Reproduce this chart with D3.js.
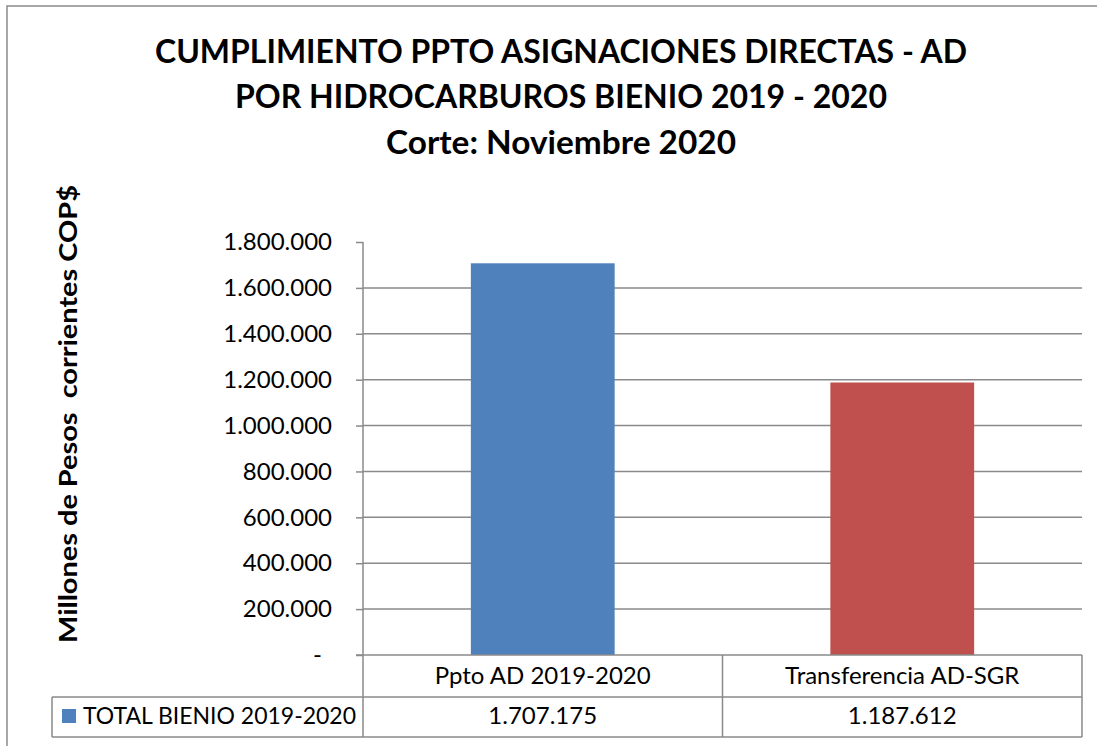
<!DOCTYPE html>
<html>
<head>
<meta charset="utf-8">
<script src="https://cdn.jsdelivr.net/npm/d3@7"></script>
<style>
  body { margin: 0; background: #fff; }
  svg { display: block; font-family: Lato, "Open Sans", sans-serif; }
</style>
</head>
<body>
<svg width="1097" height="746"></svg>
<script>
var categories = ["Ppto AD 2019-2020", "Transferencia AD-SGR"];
var values = [1707175, 1187612];
var seriesName = "TOTAL BIENIO 2019-2020";
var barColors = ["#4F81BD", "#C0504D"];
var yTicks = [0, 200000, 400000, 600000, 800000, 1000000, 1200000, 1400000, 1600000, 1800000];
var titleLines = [
  "CUMPLIMIENTO PPTO ASIGNACIONES DIRECTAS - AD",
  "POR HIDROCARBUROS BIENIO 2019 - 2020",
  "Corte: Noviembre 2020"
];
var yLabel = "Millones de Pesos  corrientes COP$";

var es = d3.formatLocale({decimal: ",", thousands: ".", grouping: [3], currency: ["$", ""]});
var fmt = function(v) { return v === 0 ? "-" : es.format(",d")(v); };

var svg = d3.select("svg");
var gridColor = "#8a8a8a";

// plot area
var plotLeft = 363, plotRight = 1082, plotTop = 242, zeroY = 655;
var rowMid = 697, rowBottom = 737, tableLeft = 52;

var x = d3.scaleBand().domain(categories).range([plotLeft, plotRight]).padding(0);
var y = d3.scaleLinear().domain([0, 1800000]).range([zeroY, plotTop]);

// outer frame (only left & top visible)
svg.append("path")
    .attr("d", "M7,750 V6 H1100")
    .attr("fill", "none")
    .attr("stroke", gridColor)
    .attr("stroke-width", 1.5);

// title
svg.append("g").selectAll("text")
  .data(titleLines)
  .enter().append("text")
    .attr("x", 561)
    .attr("y", function(d, i) { return [63, 108, 154][i]; })
    .attr("text-anchor", "middle")
    .attr("font-weight", "bold")
    .attr("font-size", 33)
    .attr("textLength", function(d, i) { return [812, 652, 350][i]; })
    .attr("lengthAdjust", "spacingAndGlyphs")
    .text(function(d) { return d; });

// y axis label
svg.append("text")
    .attr("transform", "translate(77,414) rotate(-90)")
    .attr("text-anchor", "middle")
    .attr("font-weight", "bold")
    .attr("font-size", 25)
    .attr("textLength", 458)
    .attr("lengthAdjust", "spacingAndGlyphs")
    .style("white-space", "pre")
    .text(yLabel);

// gridlines
svg.append("g").selectAll("line")
  .data(yTicks.filter(function(t) { return t > 0 && t < 1800000; }))
  .enter().append("line")
    .attr("x1", plotLeft).attr("x2", plotRight)
    .attr("y1", function(d) { return y(d); })
    .attr("y2", function(d) { return y(d); })
    .attr("stroke", gridColor)
    .attr("stroke-width", 1.5);

// y axis
var yAxis = svg.append("g")
    .attr("transform", "translate(" + plotLeft + ",0)")
    .call(d3.axisLeft(y).tickValues(yTicks).tickFormat(fmt).tickSize(7).tickPadding(24));
yAxis.select(".domain").remove();
yAxis.selectAll(".tick line").attr("stroke", gridColor).attr("stroke-width", 1.5);
yAxis.selectAll(".tick text")
    .attr("font-family", "Lato, sans-serif")
    .attr("font-size", 24)
    .attr("fill", "#000")
    .attr("dx", function(d) { return d === 0 ? -10 : 0; });

// bars
svg.append("g").selectAll("rect")
  .data(values)
  .enter().append("rect")
    .attr("x", function(d, i) { return x(categories[i]) + x.bandwidth() * 0.3; })
    .attr("width", x.bandwidth() * 0.4)
    .attr("y", function(d) { return y(d); })
    .attr("height", function(d) { return zeroY - y(d); })
    .attr("fill", function(d, i) { return barColors[i]; });

// data table lines
var tbl = svg.append("g")
    .attr("stroke", gridColor)
    .attr("stroke-width", 1.5)
    .attr("fill", "none");
tbl.append("line").attr("x1", plotLeft - 7).attr("x2", plotRight).attr("y1", zeroY).attr("y2", zeroY);
tbl.append("line").attr("x1", tableLeft).attr("x2", plotRight).attr("y1", rowMid).attr("y2", rowMid);
tbl.append("line").attr("x1", tableLeft).attr("x2", plotRight).attr("y1", rowBottom).attr("y2", rowBottom);
tbl.append("line").attr("x1", plotLeft).attr("x2", plotLeft).attr("y1", plotTop).attr("y2", rowBottom);
tbl.append("line").attr("x1", tableLeft).attr("x2", tableLeft).attr("y1", rowMid).attr("y2", rowBottom);
tbl.selectAll(".col")
  .data(categories)
  .enter().append("line")
    .attr("class", "col")
    .attr("x1", function(d) { return x(d) + x.bandwidth(); })
    .attr("x2", function(d) { return x(d) + x.bandwidth(); })
    .attr("y1", zeroY).attr("y2", rowBottom);

// category labels
svg.append("g").selectAll("text")
  .data(categories)
  .enter().append("text")
    .attr("x", function(d) { return x(d) + x.bandwidth() / 2; })
    .attr("y", 684)
    .attr("text-anchor", "middle")
    .attr("font-size", 24)
    .text(function(d) { return d; });

// values row
svg.append("g").selectAll("text")
  .data(values)
  .enter().append("text")
    .attr("x", function(d, i) { return x(categories[i]) + x.bandwidth() / 2; })
    .attr("y", 724)
    .attr("text-anchor", "middle")
    .attr("font-size", 24)
    .text(function(d) { return fmt(d); });

// legend key in table
svg.append("rect")
    .attr("x", 62).attr("y", 709)
    .attr("width", 14).attr("height", 14)
    .attr("fill", barColors[0]);
svg.append("text")
    .attr("x", 83).attr("y", 724)
    .attr("font-size", 23)
    .attr("textLength", 273)
    .attr("lengthAdjust", "spacingAndGlyphs")
    .text(seriesName);
</script>
</body>
</html>
